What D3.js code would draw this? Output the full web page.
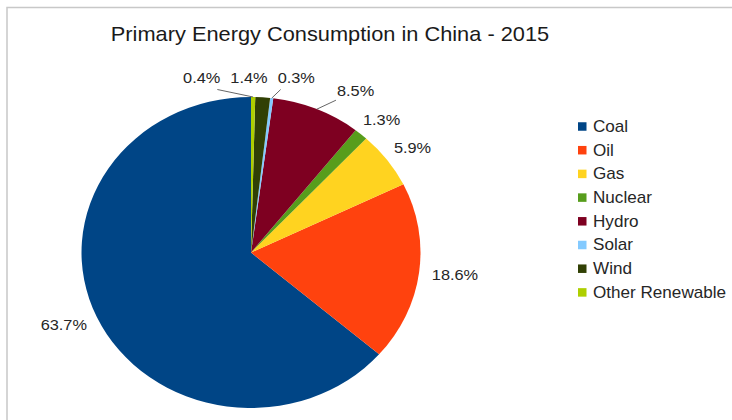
<!DOCTYPE html>
<html>
<head>
<meta charset="utf-8">
<script src="https://cdn.jsdelivr.net/npm/d3@7"></script>
<style>
  body { margin: 0; background: #fff; }
  text { font-family: "Liberation Sans", Arial, sans-serif; }
</style>
</head>
<body>
<svg id="chart" width="732" height="420"></svg>
<script>
// Chart data (percent of primary energy, 2015)
var title = "Primary Energy Consumption in China - 2015";
var sources = ["Coal", "Oil", "Gas", "Nuclear", "Hydro", "Solar", "Wind", "Other Renewable"];
var shares = [63.7, 18.6, 5.9, 1.3, 8.5, 0.3, 1.4, 0.4];
var colors = ["#004586", "#ff420e", "#ffd320", "#579d1c", "#7e0021", "#83caff", "#314004", "#aecf00"];

var svg = d3.select("#chart"),
  width = +svg.attr("width"),
  height = +svg.attr("height"),
  cx = 251, cy = 252.5,
  radius = 155.5,
  stretch = 1.09;   // the original picture is a bit wider than tall

var data = sources.map((s, i) => ({ name: s, value: shares[i], color: colors[i] }));

// frame lines on top and left
svg.append("path")
  .attr("d", "M7,420V7.5H" + width)
  .attr("fill", "none")
  .attr("stroke", "#c8c8c8")
  .attr("stroke-width", 1.5);

// title
svg.append("text")
  .attr("transform", "translate(330,41) scale(" + stretch + ",1)")
  .attr("text-anchor", "middle")
  .attr("font-size", 20)
  .attr("fill", "#1a1a1a")
  .text(title);

// pie, counter-clockwise from 12 o'clock
var pie = d3.pie().sort(null).value(d => d.value)
  .startAngle(0).endAngle(-2 * Math.PI);
var arc = d3.arc().innerRadius(0).outerRadius(radius);
var arcs = pie(data);

svg.append("g")
  .attr("transform", "translate(" + cx + "," + cy + ") scale(" + stretch + ",1)")
  .selectAll("path")
  .data(arcs)
  .enter().append("path")
  .attr("d", arc)
  .attr("fill", d => d.data.color);

function point(a, r) {
  return [cx + r * Math.sin(a) * stretch, cy - r * Math.cos(a)];
}

// labels
var fmt = d => d.toFixed(1) + "%";
var labelH = 15;
var labelG = svg.append("g");
var lineG = svg.append("g");
var labels = arcs.map(d => {
  var mid = (d.startAngle + d.endAngle) / 2;
  var signed = mid % (2 * Math.PI);
  if (signed > Math.PI) signed -= 2 * Math.PI;
  if (signed < -Math.PI) signed += 2 * Math.PI;
  var t = labelG.append("text")
    .attr("font-size", 15)
    .attr("fill", "#262626")
    .attr("dy", "0.35em")
    .text(fmt(d.data.value));
  return { d: d, mid: mid, ang: signed, node: t, w: t.node().getComputedTextLength() * stretch };
});

function place(l, left, y) {
  l.left = left; l.y = y;
  l.node.attr("transform", "translate(" + left + "," + y + ") scale(" + stretch + ",1)");
}

// small slices crowding at the top go side by side in one row
var gap = 10;
var row = labels.filter(l => Math.abs(l.ang) < 10 * Math.PI / 180)
  .sort((a, b) => a.ang - b.ang);
var rowW = d3.sum(row, l => l.w) + gap * (row.length - 1);
var rowY = cy - radius - 19.5;
var x0 = cx - rowW / 2 - 2;
row.forEach(l => {
  place(l, x0, rowY);
  x0 += l.w + gap;
  var p = point(l.mid, radius);
  if (p[0] < l.left) drawLine([l.left + 3, rowY + 12], p);
  else if (p[0] > l.left + l.w) drawLine([l.left + l.w - 3, rowY + 12], p);
});
var rowRight = x0 - gap;

// the rest sit just outside the rim, box pushed away along the mid angle
labels.filter(l => row.indexOf(l) < 0).forEach(l => {
  var p = point(l.mid, radius + 12);
  var sx = Math.sin(l.mid), cy_ = -Math.cos(l.mid);
  var midX = p[0] + sx * l.w / 2;
  var midY = p[1] + cy_ * labelH / 2;
  var left = midX - l.w / 2;
  // keep clear of the top row
  if (midY - labelH / 2 < rowY + labelH / 2 + 12 && left < rowRight + 20 && midX > cx) {
    left = rowRight + 22;
    place(l, left, midY);
    drawLine([left - 1, midY + 9], point(l.mid, radius));
  } else {
    place(l, left, midY);
  }
});

function drawLine(a, b) {
  lineG.append("line")
    .attr("x1", a[0]).attr("y1", a[1])
    .attr("x2", b[0]).attr("y2", b[1])
    .attr("stroke", "#666")
    .attr("stroke-width", 1);
}

// legend
var legend = svg.append("g")
  .selectAll("g")
  .data(data)
  .enter().append("g")
  .attr("transform", (d, i) => "translate(578," + (126.5 + i * 23.7) + ")");

legend.append("rect")
  .attr("x", 0).attr("y", -4.25)
  .attr("width", 8.5).attr("height", 8.5)
  .attr("fill", d => d.color);

legend.append("text")
  .attr("transform", "translate(15,0) scale(" + stretch + ",1)")
  .attr("dy", "0.35em")
  .attr("font-size", 15.7)
  .attr("fill", "#262626")
  .text(d => d.name);
</script>
</body>
</html>
